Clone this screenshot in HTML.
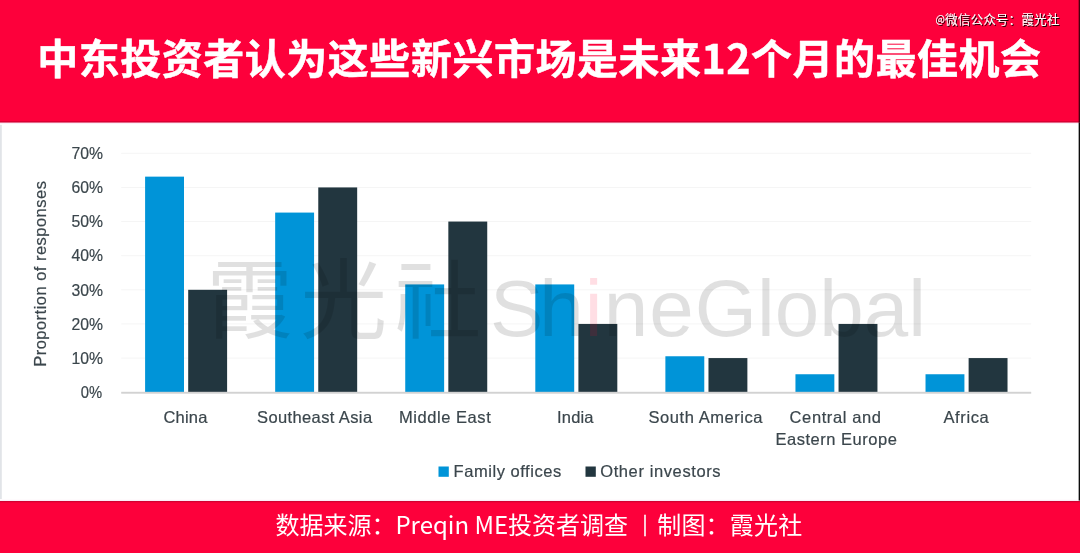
<!DOCTYPE html>
<html lang="zh-CN"><head><meta charset="utf-8"><title>chart</title>
<style>
html,body{margin:0;padding:0;background:#fd003b;}
body{width:1080px;height:553px;overflow:hidden;position:relative;font-family:"Liberation Sans","Noto Sans CJK SC",sans-serif;}
svg{position:absolute;left:0;top:0;display:block}
.lat{font-family:"Liberation Sans","Noto Sans CJK SC",sans-serif;}
.cjk{font-family:"Noto Sans CJK SC","Liberation Sans",sans-serif;}
.kr{font-family:"Noto Sans CJK KR","Noto Sans CJK SC",sans-serif;}
</style></head><body>
<svg width="1080" height="553" viewBox="0 0 1080 553">

<rect x="0" y="0" width="1080" height="553" fill="#fd003b"/>
<rect x="0" y="122.6" width="1080" height="378.4" fill="#ffffff"/>
<rect x="0" y="121.3" width="1080" height="1.3" fill="#b8002c" opacity="0.75"/>
<rect x="0" y="122.6" width="1080" height="1.3" fill="#fae6f4" opacity="0.7"/>
<rect x="0" y="499.8" width="1080" height="1.2" fill="#fae6f4" opacity="0.7"/>
<rect x="0" y="501" width="1080" height="1.3" fill="#b8002c" opacity="0.6"/>
<rect x="0" y="124.8" width="1.8" height="374.2" fill="#e1e4e8"/>
<rect x="1078.65" y="0" width="1.35" height="122.6" fill="#4a0010"/>
<rect x="1078.65" y="122.6" width="1.35" height="378" fill="#0c0c0c"/>
<rect x="121.2" y="357.57" width="910.0" height="1" fill="#f5f5f5"/>
<rect x="121.2" y="323.44" width="910.0" height="1" fill="#f5f5f5"/>
<rect x="121.2" y="289.31" width="910.0" height="1" fill="#f5f5f5"/>
<rect x="121.2" y="255.19" width="910.0" height="1" fill="#f5f5f5"/>
<rect x="121.2" y="221.06" width="910.0" height="1" fill="#f5f5f5"/>
<rect x="121.2" y="186.93" width="910.0" height="1" fill="#f5f5f5"/>
<rect x="121.2" y="152.80" width="910.0" height="1" fill="#f5f5f5"/>
<rect x="145.10" y="176.64" width="38.9" height="215.56" fill="#0094d8"/>
<rect x="188.20" y="289.81" width="38.9" height="102.39" fill="#22363f"/>
<rect x="275.17" y="212.58" width="38.9" height="179.62" fill="#0094d8"/>
<rect x="318.27" y="187.43" width="38.9" height="204.77" fill="#22363f"/>
<rect x="405.24" y="284.42" width="38.9" height="107.78" fill="#0094d8"/>
<rect x="448.34" y="221.56" width="38.9" height="170.64" fill="#22363f"/>
<rect x="535.31" y="284.42" width="38.9" height="107.78" fill="#0094d8"/>
<rect x="578.41" y="323.94" width="38.9" height="68.26" fill="#22363f"/>
<rect x="665.38" y="356.26" width="38.9" height="35.94" fill="#0094d8"/>
<rect x="708.48" y="358.07" width="38.9" height="34.13" fill="#22363f"/>
<rect x="795.45" y="374.25" width="38.9" height="17.95" fill="#0094d8"/>
<rect x="838.55" y="323.94" width="38.9" height="68.26" fill="#22363f"/>
<rect x="925.52" y="374.25" width="38.9" height="17.95" fill="#0094d8"/>
<rect x="968.62" y="358.07" width="38.9" height="34.13" fill="#22363f"/>
<rect x="121.2" y="391.8" width="910.0" height="1.9" fill="#d2d2d2"/>
<text id="y0" class="lat" x="80.80" y="398.00" font-size="16.5" fill="#3b464c" stroke="#3b464c" stroke-width="0.2" textLength="21.36" lengthAdjust="spacingAndGlyphs">0%</text>
<text id="y1" class="lat" x="71.40" y="363.87" font-size="16.5" fill="#3b464c" stroke="#3b464c" stroke-width="0.2" textLength="31.53" lengthAdjust="spacingAndGlyphs">10%</text>
<text id="y2" class="lat" x="71.40" y="329.74" font-size="16.5" fill="#3b464c" stroke="#3b464c" stroke-width="0.2" textLength="31.53" lengthAdjust="spacingAndGlyphs">20%</text>
<text id="y3" class="lat" x="71.40" y="295.61" font-size="16.5" fill="#3b464c" stroke="#3b464c" stroke-width="0.2" textLength="31.53" lengthAdjust="spacingAndGlyphs">30%</text>
<text id="y4" class="lat" x="71.40" y="261.49" font-size="16.5" fill="#3b464c" stroke="#3b464c" stroke-width="0.2" textLength="31.53" lengthAdjust="spacingAndGlyphs">40%</text>
<text id="y5" class="lat" x="71.40" y="227.36" font-size="16.5" fill="#3b464c" stroke="#3b464c" stroke-width="0.2" textLength="31.53" lengthAdjust="spacingAndGlyphs">50%</text>
<text id="y6" class="lat" x="71.40" y="193.23" font-size="16.5" fill="#3b464c" stroke="#3b464c" stroke-width="0.2" textLength="31.53" lengthAdjust="spacingAndGlyphs">60%</text>
<text id="y7" class="lat" x="71.40" y="159.10" font-size="16.5" fill="#3b464c" stroke="#3b464c" stroke-width="0.2" textLength="31.53" lengthAdjust="spacingAndGlyphs">70%</text>
<text id="yt" class="lat" transform="translate(46,366.80) rotate(-90)" font-size="16.5" fill="#3b464c" stroke="#3b464c" stroke-width="0.2" textLength="185.69" lengthAdjust="spacing">Proportion of responses</text>
<text id="x0" class="lat" x="163.50" y="423.25" font-size="16.5" fill="#3b464c" stroke="#3b464c" stroke-width="0.2" textLength="43.88" lengthAdjust="spacing">China</text>
<text id="x1" class="lat" x="257.00" y="423.25" font-size="16.5" fill="#3b464c" stroke="#3b464c" stroke-width="0.2" textLength="115.08" lengthAdjust="spacing">Southeast Asia</text>
<text id="x2" class="lat" x="399.00" y="423.25" font-size="16.5" fill="#3b464c" stroke="#3b464c" stroke-width="0.2" textLength="91.72" lengthAdjust="spacing">Middle East</text>
<text id="x3" class="lat" x="557.00" y="423.25" font-size="16.5" fill="#3b464c" stroke="#3b464c" stroke-width="0.2" textLength="36.53" lengthAdjust="spacing">India</text>
<text id="x4" class="lat" x="648.50" y="423.25" font-size="16.5" fill="#3b464c" stroke="#3b464c" stroke-width="0.2" textLength="114.06" lengthAdjust="spacing">South America</text>
<text id="x5a" class="lat" x="789.60" y="423.25" font-size="16.5" fill="#3b464c" stroke="#3b464c" stroke-width="0.2" textLength="91.31" lengthAdjust="spacing">Central and</text>
<text id="x5b" class="lat" x="775.50" y="445.00" font-size="16.5" fill="#3b464c" stroke="#3b464c" stroke-width="0.2" textLength="121.41" lengthAdjust="spacing">Eastern Europe</text>
<text id="x6" class="lat" x="943.50" y="423.25" font-size="16.5" fill="#3b464c" stroke="#3b464c" stroke-width="0.2" textLength="45.19" lengthAdjust="spacing">Africa</text>
<text id="l0" class="lat" x="453.60" y="477.30" font-size="16.5" fill="#3b464c" stroke="#3b464c" stroke-width="0.2" textLength="107.56" lengthAdjust="spacing">Family offices</text>
<text id="l1" class="lat" x="600.20" y="477.30" font-size="16.5" fill="#3b464c" stroke="#3b464c" stroke-width="0.2" textLength="120.37" lengthAdjust="spacing">Other investors</text>
<rect x="438.5" y="466.5" width="10.3" height="10.3" fill="#0094d8"/>
<rect x="585.5" y="466.5" width="10.3" height="10.3" fill="#22363f"/>
<g fill="#000000" fill-opacity="0.12">
<text id="wm1" class="cjk" x="206.2" y="332" font-size="87" font-weight="400" letter-spacing="7">霞光<tspan class="kr" lang="ko">社</tspan></text>
<text id="wm2" class="lat" x="490" y="336.3" font-size="80" dx="0 -4 1 1 1 1 0 0 0 0 0">Sh<tspan fill="#ff0030" fill-opacity="0.13">i</tspan>neGlobal</text>
</g>
<text id="title" class="cjk" x="37.20" y="73.5" font-size="41" font-weight="700" fill="#ffffff" stroke="#ffffff" stroke-width="0.5" textLength="1003.89" lengthAdjust="spacing">中东投资者认为这些新兴市场是未来12个月的最佳机会</text>
<text id="foot1" class="cjk" x="275.40" y="533.5" font-size="24" fill="#ffffff" textLength="352.66" lengthAdjust="spacing">数据来源：Preqin ME投资者调查</text>
<text id="foot2" class="cjk" x="657.20" y="533.5" font-size="24" fill="#ffffff" textLength="145.00" lengthAdjust="spacing">制图：霞光社</text>
<text id="bar" class="cjk" x="645" y="532.5" font-size="21" font-weight="700" stroke="#ffffff" stroke-width="0.5" fill="#ffffff" text-anchor="middle">｜</text>
<defs><filter id="sh" x="-5%" y="-30%" width="110%" height="170%"><feDropShadow dx="1" dy="1" stdDeviation="0" flood-color="#160004" flood-opacity="0.95"/></filter></defs>
<text id="tr" class="cjk" x="935.60" y="23.6" font-size="12.6" font-weight="400" fill="#ffffff" filter="url(#sh)" textLength="123.67" lengthAdjust="spacing"><tspan font-size="9.6" font-weight="500" dy="-1">@</tspan><tspan dy="1">微信公众号：霞光社</tspan></text>
</svg>
</body></html>
